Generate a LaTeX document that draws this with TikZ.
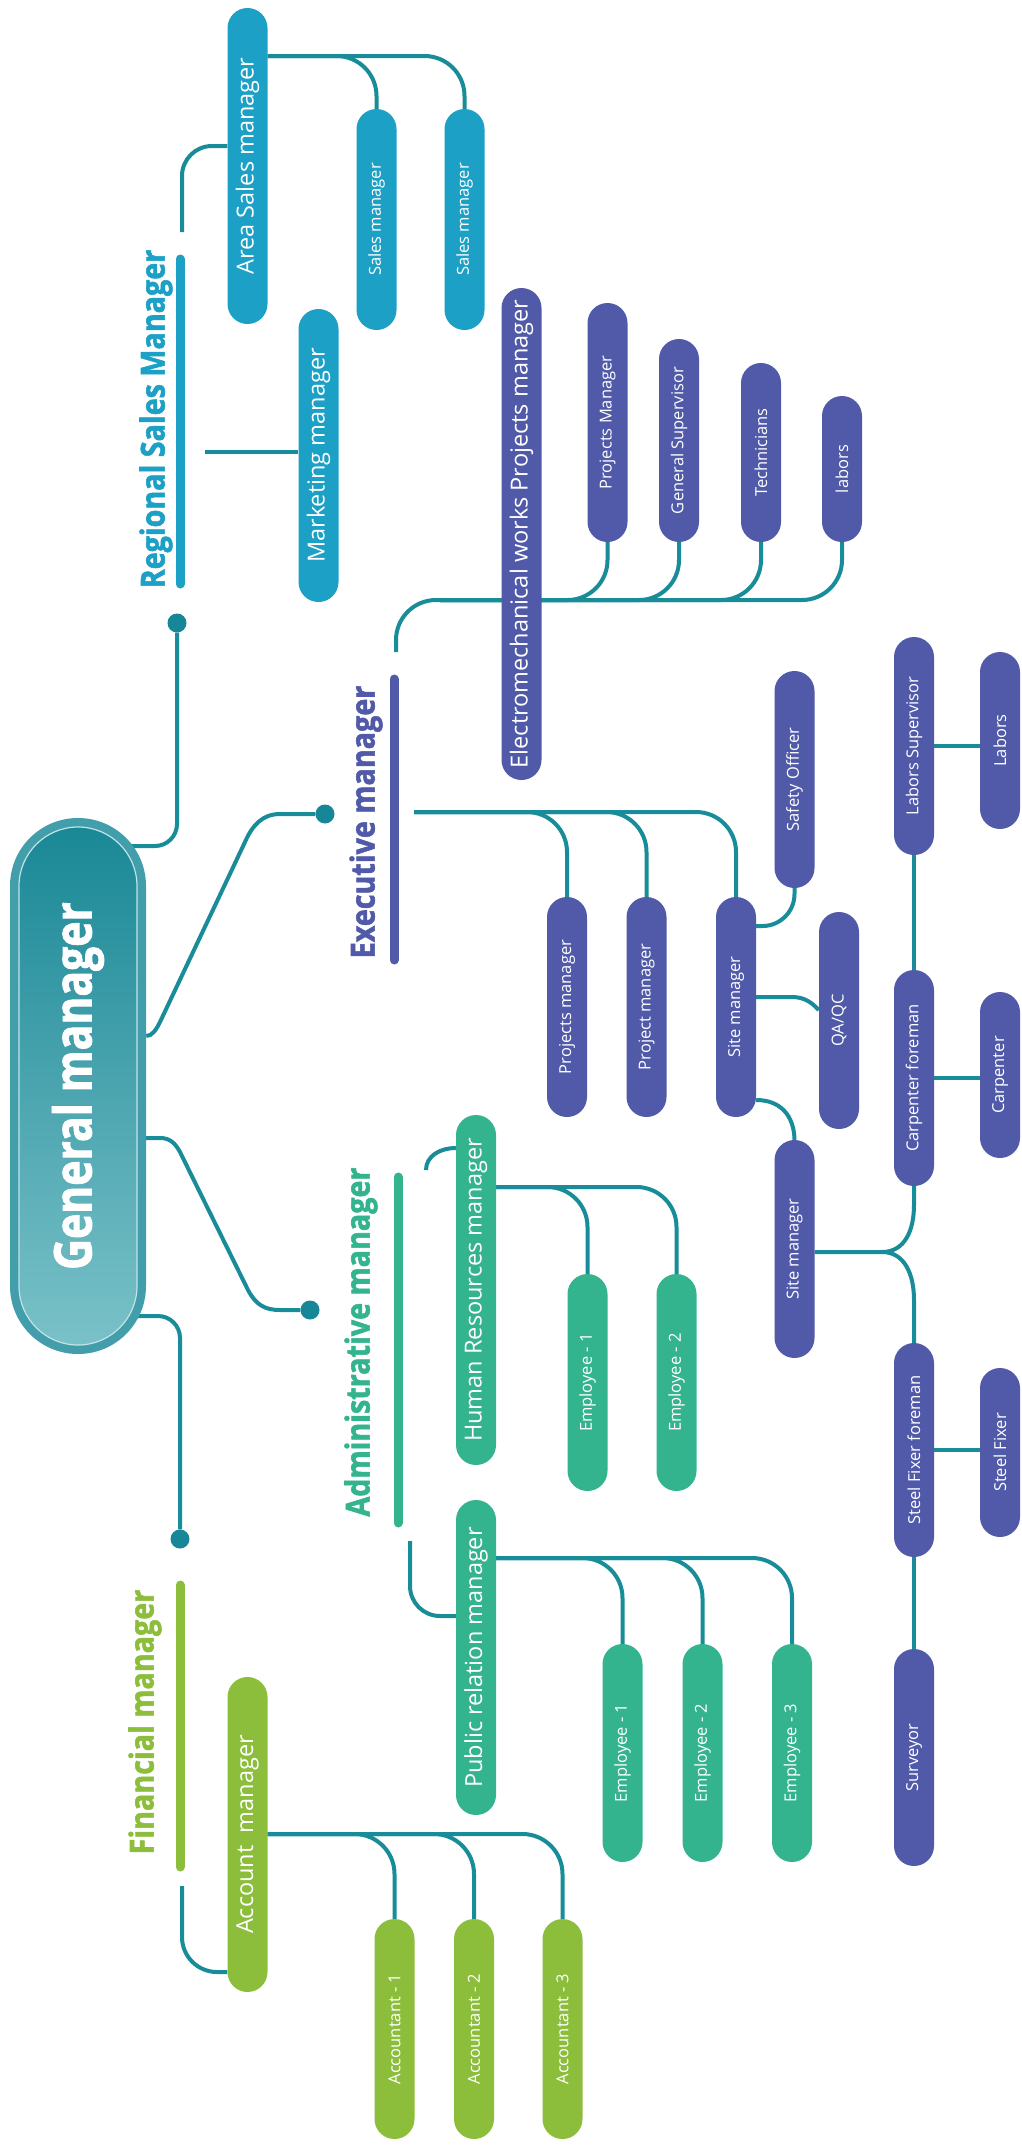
\documentclass[tikz,border=0pt]{standalone}
\usepackage{fontspec}
\setmainfont{Open Sans}
\newfontfamily\headfont{Open Sans}[FakeStretch=0.87,FakeBold=1.6]
\newfontfamily\gmfont{Open Sans}[FakeStretch=0.82,FakeBold=1.6]
\usetikzlibrary{shapes.misc}
\definecolor{linkc}{RGB}{24,140,152}
\definecolor{dotc}{RGB}{22,134,152}
\definecolor{cyanc}{RGB}{28,160,197}
\definecolor{workc}{RGB}{80,90,168}
\definecolor{staffc}{RGB}{52,180,142}
\definecolor{limec}{RGB}{140,190,60}
\definecolor{gmrimc}{RGB}{66,158,170}
\definecolor{gmdark}{RGB}{26,136,150}
\definecolor{gmlight}{RGB}{122,193,200}
\pgfdeclarelayer{bg}
\pgfsetlayers{bg,main}
\tikzset{
	pill/.style={rounded rectangle, rotate=90, inner sep=0pt, minimum height=40pt, minimum width=#1, text=white},
	cyanbox/.style={pill=#1, fill=cyanc},
	workbox/.style={pill=#1, fill=workc},
	staffbox/.style={pill=#1, fill=staffc},
	limebox/.style={pill=#1, fill=limec},
	bigtext/.style={font=\fontsize{23.5}{24}\selectfont},
	smalltext/.style={font=\fontsize{16.5}{17}\selectfont},
	title/.style={rotate=90, inner sep=0pt, text=#1, font=\headfont\bfseries\fontsize{33}{33}\selectfont},
	bar/.style={line width=9pt, line cap=round},
	knob/.style={circle, fill=dotc, minimum size=19pt, inner sep=0pt},
	link/.style={draw=linkc, line width=4pt, rounded corners=40pt},
	curve/.style={draw=linkc, line width=4pt, sharp corners},
	gmrim/.style={rounded rectangle, rotate=90, inner sep=0pt, minimum width=536pt, minimum height=136pt, fill=gmrimc},
	gmcore/.style={rounded rectangle, rotate=90, inner sep=0pt, minimum width=518pt, minimum height=118pt,
		top color=gmdark, bottom color=gmlight, draw=white!55!gmlight, line width=1.2pt, text=white,
		font=\gmfont\bfseries\fontsize{52}{52}\selectfont}
}
\begin{document}
\begin{tikzpicture}[x=1pt,y=-1pt]
	\useasboundingbox (0,0) rectangle (1021,2150);
	\begin{pgfonlayer}{bg}
		\fill [white] (0,0) rectangle (1021,2150);
	\end{pgfonlayer}
	% general manager
	\node [gmrim] (gm) at (78,1086) {};
	\node [gmcore] (gmcore) at (gm.center) {General manager};
	% section titles
	\node [title=cyanc] (rsm) at (156,419) {Regional Sales Manager};
	\node [title=workc] (exec) at (366,822) {Executive manager};
	\node [title=staffc] (adm) at (361,1342) {Administrative manager};
	\node [title=limec] (fin) at (145,1722) {Financial manager};
	\draw [bar,cyanc] (180,259)--(180,584);
	\draw [bar,workc] (394,679)--(394,960);
	\draw [bar,staffc] (398,1177)--(398,1523);
	\draw [bar,limec] (180,1585)--(180,1867);
	\node [knob] (rsmdot) at (177,623) {};
	\node [knob] (execdot) at (325,814) {};
	\node [knob] (admdot) at (310,1310) {};
	\node [knob] (findot) at (180,1539) {};
	\coordinate (rsm-up) at (182,232);
	\coordinate (rsm-side) at (205,452);
	\coordinate (exec-up) at (396,652);
	\coordinate (exec-side) at (414,812);
	\coordinate (adm-hr) at (426,1170);
	\coordinate (adm-pr) at (410,1541);
	\coordinate (fin-am) at (182,1886);
	% sales
	\node [cyanbox=316pt,bigtext] (asm) at (247.5,166) {Area Sales manager};
	\node [cyanbox=221pt,smalltext] (sm1) at (376.5,219.5) {Sales manager};
	\node [cyanbox=221pt,smalltext] (sm2) at (464.5,219.5) {Sales manager};
	\node [cyanbox=293pt,bigtext] (mkt) at (318.5,455.5) {Marketing manager};
	% works
	\node [workbox=492pt,bigtext] (emw) at (521.5,534) {Electromechanical works Projects manager};
	\node [workbox=239pt,smalltext] (pm2) at (607.5,422.5) {Projects Manager};
	\node [workbox=203pt,smalltext] (gs) at (679,440.5) {General Supervisor};
	\node [workbox=179pt,smalltext] (tech) at (761,452.5) {Technicians};
	\node [workbox=146pt,smalltext] (labs) at (842,469) {labors};
	\node [workbox=220pt,smalltext] (pmA) at (567,1007) {Projects manager};
	\node [workbox=220pt,smalltext] (pmB) at (646.5,1007) {Project manager};
	\node [workbox=220pt,smalltext] (site1) at (736,1007) {Site manager};
	\node [workbox=217pt,smalltext] (safety) at (794.5,779.5) {Safety Officer};
	\node [workbox=217pt,smalltext] (qa) at (839,1020.5) {QA/QC};
	\node [workbox=218pt,smalltext] (site2) at (794.5,1249) {Site manager};
	\node [workbox=218pt,smalltext] (labsup) at (914,746) {Labors Supervisor};
	\node [workbox=177pt,smalltext] (labors) at (1000,740.5) {Labors};
	\node [workbox=216pt,smalltext] (carpf) at (914,1078) {Carpenter foreman};
	\node [workbox=166pt,smalltext] (carp) at (1000,1075) {Carpenter};
	\node [workbox=214pt,smalltext] (sff) at (914,1450) {Steel Fixer foreman};
	\node [workbox=169pt,smalltext] (sf) at (1000,1452.5) {Steel Fixer};
	\node [workbox=217pt,smalltext] (surv) at (914,1757.5) {Surveyor};
	% administration
	\node [staffbox=350pt,bigtext] (hr) at (476,1290) {Human Resources manager};
	\node [staffbox=217pt,smalltext] (hre1) at (587.5,1382.5) {Employee - 1};
	\node [staffbox=217pt,smalltext] (hre2) at (676.5,1382.5) {Employee - 2};
	\node [staffbox=315pt,bigtext] (pr) at (476,1657.5) {Public relation manager};
	\node [staffbox=218pt,smalltext] (pre1) at (622.5,1753) {Employee - 1};
	\node [staffbox=218pt,smalltext] (pre2) at (702.5,1753) {Employee - 2};
	\node [staffbox=218pt,smalltext] (pre3) at (792,1753) {Employee - 3};
	% finance
	\node [limebox=315pt,bigtext] (am) at (247.5,1834.5) {Account\ \ manager};
	\node [limebox=220pt,smalltext] (acc1) at (394.5,2029) {Accountant - 1};
	\node [limebox=220pt,smalltext] (acc2) at (474,2029) {Accountant - 2};
	\node [limebox=220pt,smalltext] (acc3) at (562.5,2029) {Accountant - 3};
	\coordinate (fork) at (882,1252);
	\begin{pgfonlayer}{bg}
		% links from the general manager
		\draw [link,rounded corners=22pt] (gm.center |- 0,846) -| (rsmdot);
		\draw [link,rounded corners=22pt] (gm.center |- 0,1316) -| (findot);
		\draw [curve] (gm.south |- 0,1036) .. controls (152,1036) and (156,1030) .. (160,1022) -- (245,842)
			.. controls (252,826) and (262,814) .. (280,814) -- (execdot);
		\draw [curve] (gm.south |- 0,1138) -- (160,1138) .. controls (170,1138) and (175,1143) .. (180,1152) -- (248,1290)
			.. controls (256,1305) and (265,1310) .. (280,1310) -- (admdot);
		% sales
		\draw [link,rounded corners=30pt] (rsm-up) |- (asm.north |- 0,146);
		\draw [link] (rsm-side) -- (mkt.north |- rsm-side);
		\foreach \n in {sm1,sm2}
			\draw [link] (asm.south |- 0,56) -| (\n.east);
		% works
		\draw [link] (exec-up) |- (labs.west |- 0,600) -- (labs.west);
		\foreach \n in {pm2,gs,tech}
			\draw [link] (440,600) -| (\n.west);
		\foreach \n in {pmA,pmB,site1}
			\draw [link] (exec-side) -| (\n.east);
		\draw [link,rounded corners=32pt] (site1.south |- 0,926) -| (safety.west);
		\draw [curve] (site1.south |- 0,997) -- (792,997) .. controls (805,997) and (812,1003) .. (qa.north |- 0,1010);
		\draw [curve] (site1.south |- 0,1100) .. controls (780,1100) and (794,1115) .. (site2.east);
		\draw [curve] (site2.south |- fork) -- (fork) .. controls (905,1252) and (914,1230) .. (914,1205) -- (carpf.west);
		\draw [curve] (fork) .. controls (905,1252) and (914,1275) .. (914,1300) -- (sff.east);
		\draw [link] (labsup.west) -- (carpf.east);
		\draw [link] (sff.west) -- (surv.east);
		\draw [link] (labsup.south) -- (labsup.south -| labors.north);
		\draw [link] (carpf.south) -- (carpf.south -| carp.north);
		\draw [link] (sff.south) -- (sff.south -| sf.north);
		% administration
		\draw [curve] (adm-hr) .. controls (426,1156) and (440,1148) .. (hr.north |- 0,1148);
		\draw [link,rounded corners=30pt] (adm-pr) |- (pr.north |- 0,1616);
		\foreach \n in {hre1,hre2}
			\draw [link] (hr.south |- 0,1187) -| (\n.east);
		\foreach \n in {pre1,pre2,pre3}
			\draw [link] (pr.south |- 0,1558) -| (\n.east);
		% finance
		\draw [link,rounded corners=35pt] (fin-am) |- (am.north |- 0,1972);
		\foreach \n in {acc1,acc2,acc3}
			\draw [link] (am.south |- 0,1834) -| (\n.east);
	\end{pgfonlayer}
\end{tikzpicture}
\end{document}
